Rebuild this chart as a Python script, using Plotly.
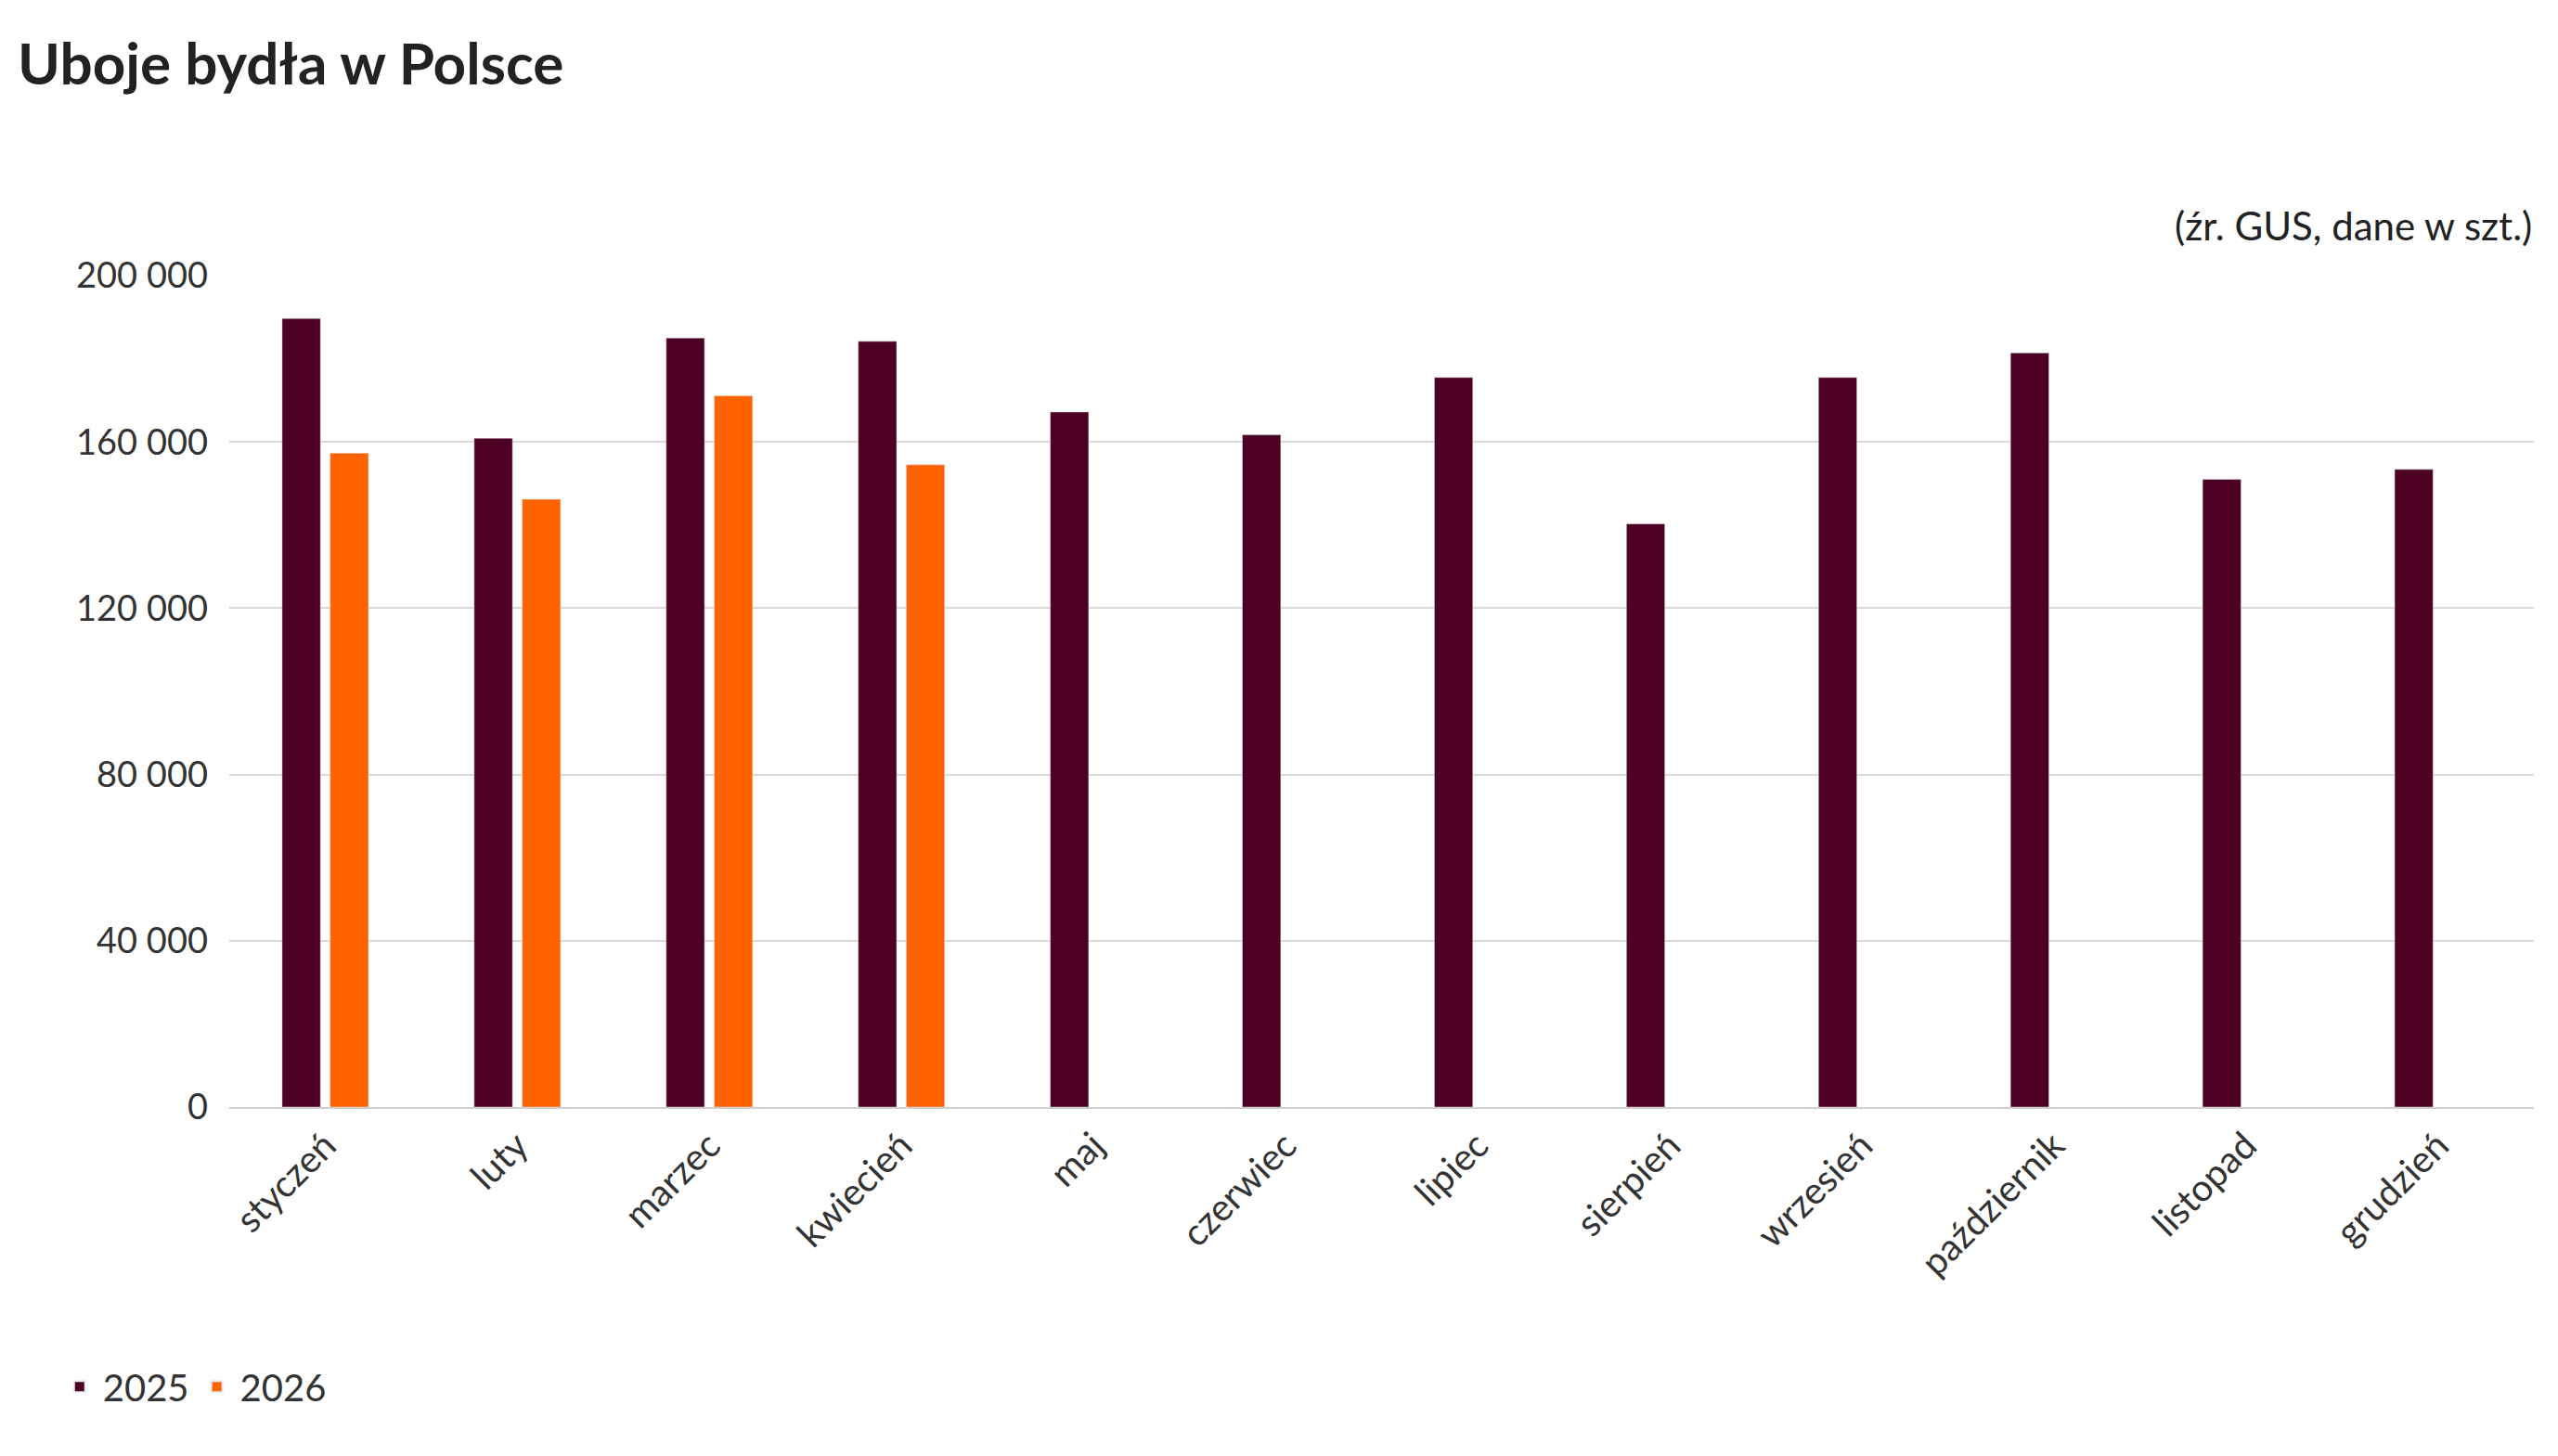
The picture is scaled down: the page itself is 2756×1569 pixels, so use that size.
import plotly.graph_objects as go

months = ["styczeń", "luty", "marzec", "kwiecień", "maj", "czerwiec", "lipiec",
          "sierpień", "wrzesień", "październik", "listopad", "grudzień"]
values_2025 = [189700, 160900, 185000, 184200, 167200, 161700, 175500,
               140300, 175500, 181400, 151000, 153400]
values_2026 = [157300, 146200, 171100, 154500]
y_ticks = [0, 40000, 80000, 120000, 160000, 200000]
y_labels = ["0", "40 000", "80 000", "120 000", "160 000", "200 000"]

W, H = 2756, 1569
font = "Lato, Open Sans, sans-serif"

fig = go.Figure()
fig.add_trace(go.Bar(x=months, y=values_2025, name="2025", marker_color="#4d0022"))
fig.add_trace(go.Bar(x=months[:len(values_2026)], y=values_2026, name="2026",
                     marker_color="#ff6200"))

fig.update_layout(
    width=W, height=H,
    paper_bgcolor="white", plot_bgcolor="white",
    font=dict(family=font, size=36, color="#333333"),
    margin=dict(l=239, r=34, t=289, b=384),
    bargap=0.5, bargroupgap=0.2,
    title=dict(text="<b>Uboje bydła w Polsce</b>", x=0.004, xanchor="left",
               y=0.975, yanchor="top", font=dict(size=62, color="#222222")),
    legend=dict(orientation="h", x=-0.075, xanchor="left", y=-0.3, yanchor="top",
                font=dict(size=40), itemwidth=40, itemsizing="constant",
                traceorder="normal"),
    annotations=[dict(text="(źr. GUS, dane w szt.)", xref="paper", yref="paper",
                      x=1, y=1.03, xanchor="right", yanchor="bottom",
                      showarrow=False, font=dict(size=42, color="#222222"))],
)
fig.update_xaxes(tickangle=-45, showline=True, linecolor="#d0d0d0", linewidth=2,
                 ticks="", tickfont=dict(size=40), automargin=False)
fig.update_yaxes(range=[0, 200000], tickvals=y_ticks, ticktext=y_labels,
                 gridcolor="#d9d9d9", gridwidth=2, zeroline=False, ticks="",
                 ticklabelstandoff=22, tickfont=dict(size=38), automargin=False)

fig.write_html("out.html")
